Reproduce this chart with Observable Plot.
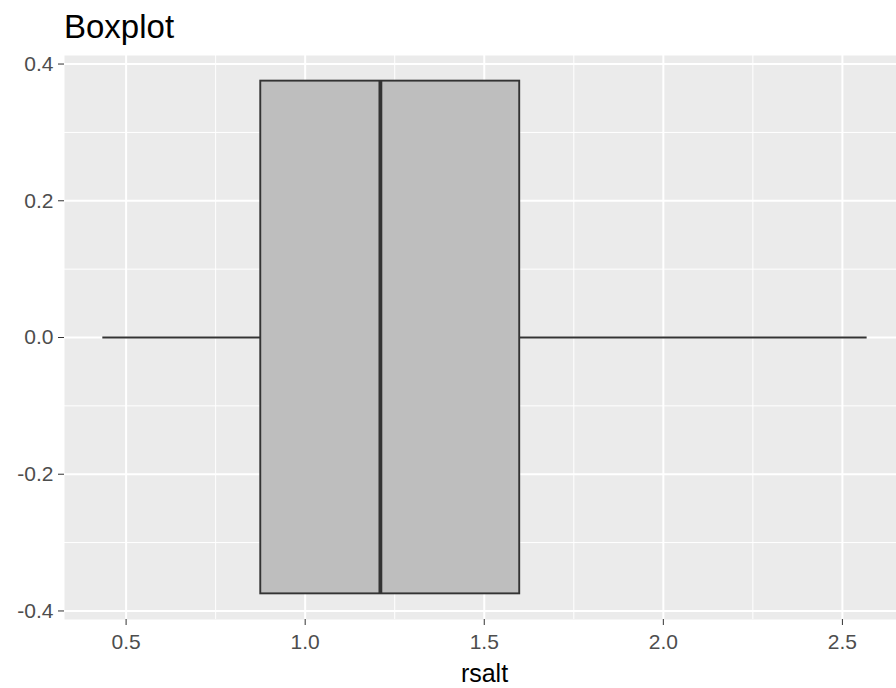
<!DOCTYPE html>
<html>
<head>
<meta charset="utf-8">
<script src="https://cdn.jsdelivr.net/npm/d3@7"></script>
<script src="https://cdn.jsdelivr.net/npm/@observablehq/plot@0.6"></script>
<style>
  html, body { margin: 0; padding: 0; background: #ffffff; }
  #title {
    font-family: "Liberation Sans", Arial, sans-serif;
    font-size: 33px;
    line-height: 33px;
    height: 34px;
    padding: 10px 0 0 64px;
    color: #000000;
    white-space: nowrap;
    overflow: visible;
  }
  #chart svg { display: block; }
</style>
</head>
<body>
<div id="title">Boxplot</div>
<div id="chart"></div>
<script>
// Five-number summary of rsalt
const groups = ["rsalt"];
const lowerWhisker = [0.435];
const lowerHinge = [0.876];
const medians = [1.210];
const upperHinge = [1.599];
const upperWhisker = [2.569];

// Axis ticks
const xTicks = [0.5, 1.0, 1.5, 2.0, 2.5];
const xMinor = [0.75, 1.25, 1.75, 2.25];
const yTicks = [-0.4, -0.2, 0.0, 0.2, 0.4];
const yMinor = [-0.3, -0.1, 0.1, 0.3];

const boxes = groups.map((g, i) => ({
  group: g,
  lo: lowerWhisker[i],
  q1: lowerHinge[i],
  med: medians[i],
  q3: upperHinge[i],
  hi: upperWhisker[i]
}));

const half = 0.375; // half of the box thickness along y
const outline = "#333333";
const lw = 1.9;

const plot = Plot.plot({
  width: 896,
  height: 644,
  marginTop: 11,
  marginBottom: 69,
  marginLeft: 64,
  marginRight: 0,
  style: { fontFamily: "'Liberation Sans', Arial, sans-serif", background: "#ffffff" },
  x: { domain: [0.328, 2.651] },
  y: { domain: [-0.4125, 0.4125] },
  marks: [
    Plot.frame({ fill: "#EBEBEB", stroke: "none" }),
    Plot.gridX(xMinor, { stroke: "#ffffff", strokeOpacity: 1, strokeWidth: 1 }),
    Plot.gridY(yMinor, { stroke: "#ffffff", strokeOpacity: 1, strokeWidth: 1 }),
    Plot.gridX(xTicks, { stroke: "#ffffff", strokeOpacity: 1, strokeWidth: 2 }),
    Plot.gridY(yTicks, { stroke: "#ffffff", strokeOpacity: 1, strokeWidth: 2 }),
    Plot.axisX(xTicks, {
      tickSize: 6, tickPadding: 9, tickFormat: d => d.toFixed(1),
      stroke: "#333333", fill: "#4D4D4D", fontSize: 21, label: null
    }),
    Plot.axisY(yTicks, {
      tickSize: 6, tickPadding: 5, tickFormat: d => d.toFixed(1),
      stroke: "#333333", fill: "#4D4D4D", fontSize: 21, label: null
    }),
    // whiskers
    Plot.ruleY(boxes, { y: () => 0, x1: "lo", x2: "q1", stroke: outline, strokeWidth: lw }),
    Plot.ruleY(boxes, { y: () => 0, x1: "q3", x2: "hi", stroke: outline, strokeWidth: lw }),
    // box
    Plot.rect(boxes, {
      x1: "q1", x2: "q3", y1: () => -half, y2: () => half,
      fill: "#BEBEBE", stroke: outline, strokeWidth: lw
    }),
    // median
    Plot.ruleX(boxes, { x: "med", y1: () => -half, y2: () => half, stroke: outline, strokeWidth: lw * 2 }),
    // x axis title
    Plot.text(["rsalt"], {
      frameAnchor: "bottom", lineAnchor: "top", dy: 45, dx: 4,
      fontSize: 25, fill: "#000000"
    })
  ]
});

document.getElementById("chart").appendChild(plot);
</script>
</body>
</html>
